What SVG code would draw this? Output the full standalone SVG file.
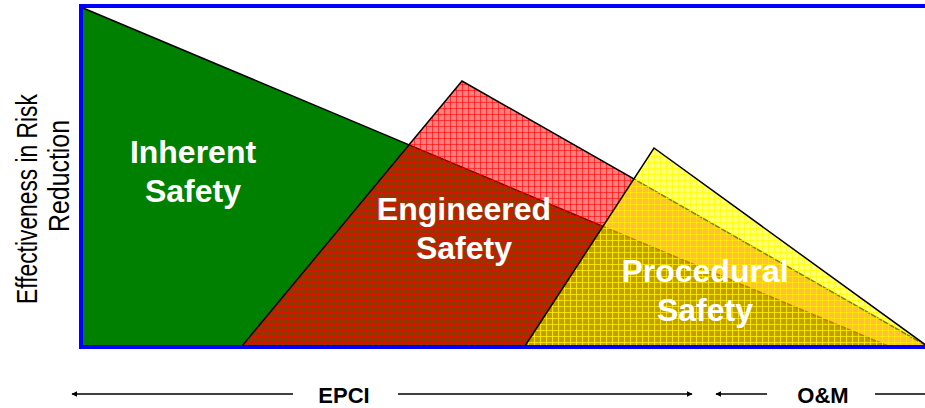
<svg xmlns="http://www.w3.org/2000/svg" width="925" height="408" viewBox="0 0 925 408">
<defs>
<pattern id="redGrid" patternUnits="userSpaceOnUse" width="6" height="6">
<rect width="6" height="6" fill="#ff0000" fill-opacity="0.5"/>
<path d="M0 0.5H6M0.5 0V6" stroke="#ff0000" stroke-width="1" stroke-opacity="0.6"/>
</pattern>
<pattern id="yellowGrid" patternUnits="userSpaceOnUse" width="6" height="6">
<rect width="6" height="6" fill="#ffff00" fill-opacity="0.5"/>
<path d="M0 0.5H6M0.5 0V6" stroke="#ffff00" stroke-width="1" stroke-opacity="0.7"/>
</pattern>
<marker id="arrow" viewBox="0 0 10 10" refX="9" refY="5" markerWidth="6" markerHeight="6" markerUnits="userSpaceOnUse" orient="auto">
<path d="M0 0L10 5L0 10Z" fill="#000"/>
</marker>
</defs>
<style>
.edge{fill:none;stroke:#000;stroke-width:1.5;stroke-linejoin:miter}
.big{font-family:"Liberation Sans",Arial,sans-serif;font-weight:bold;font-size:32px;fill:#fff;text-anchor:middle}
.axis{font-family:"Liberation Sans",Arial,sans-serif;font-size:30px;fill:#000;text-anchor:middle}
.phase{font-family:"Liberation Sans",Arial,sans-serif;font-weight:bold;font-size:22px;fill:#000;text-anchor:middle}
.arr{stroke:#000;stroke-width:1.5;fill:none}
</style>
<rect width="925" height="408" fill="#fff"/>
<g id="inherent">
<polygon points="83,8 888,346 83,346" fill="#008000"/>
<line x1="83" y1="8" x2="888" y2="346" class="edge"/>
</g>
<g id="engineered">
<polygon points="242,346 462,81 927,346" fill="url(#redGrid)"/>
<polyline points="242,346 462,81 927,346" class="edge"/>
</g>
<g id="procedural">
<polygon points="525,346 654,148 927,346" fill="url(#yellowGrid)"/>
<polyline points="525,346 654,148 927,346" class="edge"/>
</g>
<g id="frame">
<rect x="81" y="6" width="1000" height="341" fill="none" stroke="#0000ff" stroke-width="4"/>
</g>
<g id="labels">
<text class="big" x="193" y="163">Inherent</text>
<text class="big" x="193" y="202">Safety</text>
<text class="big" x="464" y="220">Engineered</text>
<text class="big" x="464" y="259">Safety</text>
<text class="big" x="705" y="282">Procedural</text>
<text class="big" x="705" y="321">Safety</text>
</g>
<g id="axis-label">
<text class="axis" transform="translate(37,199) rotate(-90) scale(0.76,1)">Effectiveness in Risk</text>
<text class="axis" transform="translate(69,176) rotate(-90) scale(0.83,1)">Reduction</text>
</g>
<g id="connectors">
<line class="arr" x1="293" y1="394" x2="72" y2="394" marker-end="url(#arrow)"/>
<line class="arr" x1="398" y1="394" x2="692" y2="394" marker-end="url(#arrow)"/>
<line class="arr" x1="767" y1="394" x2="716" y2="394" marker-end="url(#arrow)"/>
<line class="arr" x1="875" y1="394" x2="930" y2="394"/>
</g>
<g id="phases">
<text class="phase" x="344" y="403">EPCI</text>
<text class="phase" x="823" y="403">O&amp;M</text>
</g>
</svg>
